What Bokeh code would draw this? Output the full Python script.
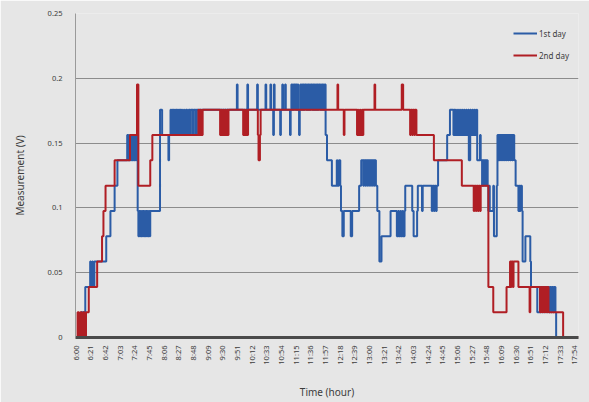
from bokeh.plotting import figure
from bokeh.models import FixedTicker, Legend, LegendItem, ColumnDataSource
from bokeh.embed import file_html
from bokeh.resources import INLINE

# ---- data (minutes after 6:00, ADC level counts; 1 count = 5/256 V) ----
LSB = 5.0 / 256.0
END_MIN = 720

tick_labels = ["6:00", "6:21", "6:42", "7:03", "7:24", "7:45", "8:06", "8:27", "8:48",
               "9:09", "9:30", "9:51", "10:12", "10:33", "10:54", "11:15", "11:36", "11:57",
               "12:18", "12:39", "13:00", "13:21", "13:42", "14:03", "14:24", "14:45", "15:06",
               "15:27", "15:48", "16:09", "16:30", "16:51", "17:12", "17:33", "17:54"]
tick_minutes = [0, 21, 42, 63, 84, 105, 126, 147, 168, 189, 210, 231, 252, 273, 294, 315, 336,
                357, 378, 399, 420, 441, 462, 483, 504, 525, 546, 567, 588, 609, 630, 651, 672,
                693, 714]

y_ticks = [0, 0.05, 0.1, 0.15, 0.2, 0.25]
y_tick_labels = ["0", "0.05", "0.1", "0.15", "0.2", "0.25"]

day1_t = [0, 8, 14, 21, 22, 24, 25, 27, 44, 50, 56, 60,
          74, 75, 76, 77, 79, 80, 82, 83, 85, 86, 87,
          89, 90, 91, 92, 93, 94, 95, 96, 97, 98, 99, 100, 101, 102, 103, 104, 105, 106,
          107, 121, 124, 133, 134,
          136, 137, 138, 139, 140, 141, 142, 143, 144, 145, 146, 147, 148, 149, 150, 151, 152,
          153, 155, 156, 158, 160, 162, 164, 165, 168, 169, 172, 173, 176, 177, 180, 181,
          231, 232, 246, 247, 260, 261, 272, 273, 279, 280, 283, 284, 285, 293, 294, 296, 297,
          300, 301,
          307, 308, 309, 310, 311, 312, 313, 315, 316, 317, 318, 319, 320, 321, 322, 323, 324,
          325, 326, 327, 328, 330, 331, 332, 333, 334, 335, 336, 337, 339, 340, 341, 342, 343,
          344, 345, 346, 347, 348, 350, 351, 352, 353, 354, 355, 356, 357, 358,
          360, 367, 374, 375, 377, 379, 380, 382, 384, 394, 396, 406, 409,
          412, 413, 415, 416, 418, 419, 421, 422, 424, 425, 427, 428, 430,
          432, 435, 438, 451, 460, 462, 463, 465, 466, 468, 469, 471, 472,
          482, 484, 489, 490, 496, 497,
          510, 511, 513, 514, 516, 517, 519, 532, 536,
          541, 542, 543, 544, 545, 547, 548, 550, 551, 553, 554, 556, 557, 559, 560, 562, 563,
          565, 566, 568, 569, 571, 572, 574, 575, 579, 580,
          582, 583, 584, 585, 587, 588, 590, 591, 592, 593, 598, 599, 603, 604,
          605, 606, 607, 608, 610, 611, 613, 614, 616, 617, 619, 620, 622, 623, 625, 626, 628,
          630, 634, 635, 636, 637, 639, 640, 644, 651, 652, 661,
          665, 666, 667, 669, 670, 672, 673, 675, 676, 678, 679, 681, 682, 684, 685, 687, 688,
          696]
day1_n = [0, 1, 2, 3, 2, 3, 2, 3, 4, 5, 6, 7,
          8, 7, 8, 7, 8, 7, 8, 7, 8, 7, 8,
          5, 4, 5, 4, 5, 4, 5, 4, 5, 4, 5, 4, 5, 4, 5, 4, 5, 4,
          5, 9, 8, 7, 8,
          9, 8, 9, 8, 9, 8, 9, 8, 9, 8, 9, 8, 9, 8, 9, 8, 9,
          8, 9, 8, 9, 8, 9, 8, 9, 8, 9, 8, 9, 8, 9, 8, 9,
          10, 9, 10, 9, 10, 9, 10, 9, 10, 9, 8, 10, 9, 8, 9, 10, 9,
          10, 9,
          8, 9, 10, 9, 10, 9, 10, 9, 10, 9, 10, 9, 8, 9, 10, 9, 10,
          9, 10, 9, 10, 9, 10, 9, 10, 9, 10, 9, 10, 9, 10, 9, 10,
          9, 10, 9, 10, 9, 10, 9, 10, 9, 10, 9, 10, 9, 10,
          8, 7, 6, 7, 6, 7, 6, 5, 4, 5, 4, 5, 6,
          7, 6, 7, 6, 7, 6, 7, 6, 7, 6, 7, 6, 7,
          6, 5, 3, 4, 5, 4, 5, 4, 5, 4, 5, 4, 5,
          6, 5, 4, 5, 6, 5,
          6, 5, 6, 5, 6, 5, 6, 7, 8,
          9, 8, 9, 8, 9, 8, 9, 8, 9, 8, 9, 8, 9, 8, 9, 8, 9,
          7, 9, 8, 9, 8, 9, 8, 9, 7, 8,
          7, 6, 7, 6, 7, 6, 7, 6, 5, 6, 5, 6, 4, 6,
          8, 7, 8, 7, 8, 7, 8, 7, 8, 7, 8, 7, 8, 7, 8, 7, 8,
          7, 6, 5, 6, 5, 6, 5, 3, 4, 3, 2,
          1, 2, 1, 2, 1, 2, 1, 2, 1, 2, 1, 2, 1, 2, 1, 2, 1,
          0]

day2_t = [0, 3, 5, 7, 9, 11, 13, 15, 19, 31, 38, 40, 43, 56, 78, 88, 90, 107, 110,
          176, 177, 179, 180, 182,
          207, 208, 209, 211, 212, 214, 215, 217, 218, 219,
          240, 241, 242, 244, 245, 247,
          261, 262, 264, 265,
          375, 376, 384, 385,
          403, 404, 405, 407, 408, 410, 411, 412,
          428, 429, 467, 469,
          479, 480, 482, 483, 485, 486, 488,
          513, 553,
          570, 571, 573, 574, 576, 577, 579, 580,
          591, 598, 617, 622, 623, 624, 626, 627, 634, 650, 651,
          665, 666, 668, 669, 671, 672, 674, 675, 677, 698]
day2_n = [0, 1, 0, 1, 0, 1, 0, 1, 2, 3, 4, 5, 6, 7, 8, 10, 6, 7, 8,
          9, 8, 9, 8, 9,
          8, 9, 8, 9, 8, 9, 8, 9, 8, 9,
          8, 9, 8, 9, 8, 9,
          8, 7, 8, 9,
          10, 9, 8, 9,
          8, 9, 8, 9, 8, 9, 8, 9,
          10, 9, 10, 9,
          8, 9, 8, 9, 8, 9, 8,
          7, 6,
          5, 6, 5, 6, 5, 6, 5, 6,
          2, 1, 2, 3, 2, 3, 2, 3, 2, 1, 2,
          1, 2, 1, 2, 1, 2, 1, 2, 1, 0]

series_names = ["1st day", "2nd day"]
series_colors = ["#2B5CA6", "#B01E24"]

FONT = "Noto Sans"
TXT = "#3C3C3C"
BG = "#E6E6E6"


def to_source(ts, ns):
    xs = list(ts) + [END_MIN]
    ys = [n * LSB for n in ns] + [ns[-1] * LSB]
    return ColumnDataSource(data=dict(x=xs, y=ys))


p = figure(width=589, height=402, x_range=(0, END_MIN), y_range=(0, 0.25),
           output_backend="svg", toolbar_location=None,
           min_border_left=75, min_border_right=11, min_border_top=13, min_border_bottom=65)

p.background_fill_color = BG
p.border_fill_color = BG
p.outline_line_color = None

renderers = []
for ts, ns, col in [(day1_t, day1_n, series_colors[0]), (day2_t, day2_n, series_colors[1])]:
    r = p.step(x="x", y="y", source=to_source(ts, ns), mode="after",
               line_color=col, line_width=2)
    renderers.append(r)

# axes
p.xaxis.ticker = FixedTicker(ticks=tick_minutes)
p.xaxis.major_label_overrides = {m: s for m, s in zip(tick_minutes, tick_labels)}
p.xaxis.major_label_orientation = 1.5708
p.xaxis.major_label_text_font = FONT
p.xaxis.major_label_text_font_size = "7.5px"
p.xaxis.major_label_text_color = TXT
p.xaxis.major_label_standoff = 8
p.xaxis.major_tick_out = 0
p.xaxis.major_tick_in = 0
p.xaxis.major_tick_line_color = None
p.xaxis.minor_tick_line_color = None
p.xaxis.axis_line_color = "#4A4A4A"
p.xaxis.axis_line_width = 3
p.xaxis.axis_label = "Time (hour)"
p.xaxis.axis_label_text_font = FONT
p.xaxis.axis_label_text_font_size = "10px"
p.xaxis.axis_label_text_font_style = "normal"
p.xaxis.axis_label_text_color = TXT
p.xaxis.axis_label_standoff = 17

p.yaxis.ticker = FixedTicker(ticks=y_ticks)
p.yaxis.major_label_overrides = {v: s for v, s in zip(y_ticks, y_tick_labels)}
p.yaxis.major_label_text_font = FONT
p.yaxis.major_label_text_font_size = "7.5px"
p.yaxis.major_label_text_color = TXT
p.yaxis.major_label_standoff = 13
p.yaxis.major_tick_out = 0
p.yaxis.major_tick_in = 0
p.yaxis.major_tick_line_color = None
p.yaxis.minor_tick_line_color = None
p.yaxis.axis_line_color = "#9A9A9A"
p.yaxis.axis_line_width = 1
p.yaxis.axis_label = "Measurement (V)"
p.yaxis.axis_label_text_font = FONT
p.yaxis.axis_label_text_font_size = "10px"
p.yaxis.axis_label_text_font_style = "normal"
p.yaxis.axis_label_text_color = TXT
p.yaxis.axis_label_standoff = 18

p.xgrid.grid_line_color = None
p.ygrid.grid_line_color = "#8C8C8C"
p.ygrid.grid_line_width = 1

legend = Legend(items=[LegendItem(label=series_names[0], renderers=[renderers[0]]),
                       LegendItem(label=series_names[1], renderers=[renderers[1]])],
                location=(438, 275))
legend.background_fill_alpha = 0
legend.border_line_color = None
legend.padding = 0
legend.margin = 0
legend.spacing = 8
legend.glyph_width = 24
legend.glyph_height = 14
legend.label_height = 14
legend.label_standoff = 2
legend.label_text_font = FONT
legend.label_text_font_size = "8px"
legend.label_text_color = TXT
p.add_layout(legend)

open("out.html", "w").write(file_html(p, INLINE))
